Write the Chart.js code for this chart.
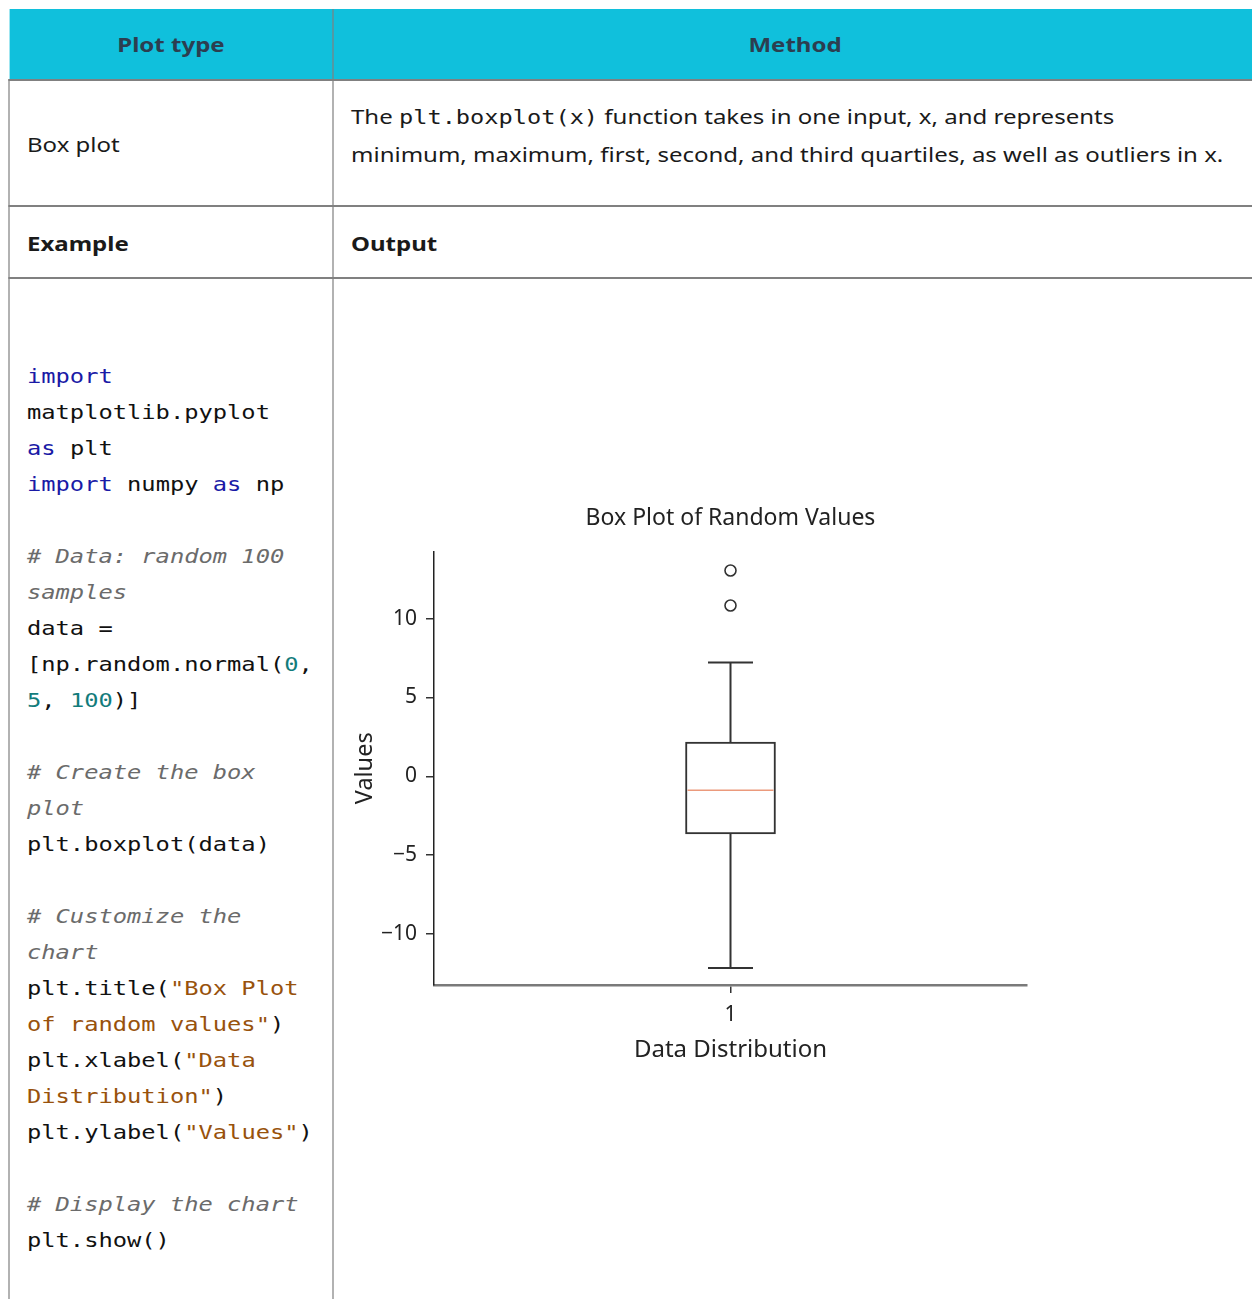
<!DOCTYPE html>
<html>
<head>
<meta charset="utf-8">
<script src="https://cdn.jsdelivr.net/npm/chart.js@4.4.1/dist/chart.umd.min.js"></script>
<style>
  html, body { margin: 0; padding: 0; width: 1252px; height: 1299px; overflow: hidden; background: #fff; }
  /* the table text in the reference is drawn a little wide, so the table is laid out narrower and stretched */
  #page { position: absolute; left: 0; top: 0; width: 1044px; height: 1299px; transform: scaleX(1.2); transform-origin: 0 0;
          font-family: 'Noto Sans', sans-serif; font-size: 20px; color: #1a1a1a; }
  .head { position: absolute; left: 7.5px; top: 9px; width: 1040px; height: 70px; background: #10c0dc; }
  .hline { position: absolute; left: 6.7px; width: 1040px; height: 2px; background: #808080; }
  .vline { position: absolute; width: 1.7px; background: #808080; }
  .txt { position: absolute; white-space: nowrap; }
  .th { font-weight: bold; color: #2c3e50; top: 31px; line-height: 28px; text-align: center; }
  .bold { font-weight: bold; }
  .mono { font-family: 'DejaVu Sans Mono', monospace; font-size: 19.7px; }
  #code { position: absolute; left: 22.5px; top: 359px; font-family: 'DejaVu Sans Mono', monospace;
          font-size: 19.8px; line-height: 36px; white-space: pre; color: #111; }
  .kw { color: #1a1aa6; }
  .cm { color: #6b6b6b; font-style: italic; }
  .nu { color: #137c7c; }
  .st { color: #98520c; }
  #chartBox { position: absolute; left: 340px; top: 490px; width: 720px; height: 600px; }
</style>
</head>
<body>
<div id="page">
  <div class="head"></div>
  <div class="hline" style="top:79px"></div>
  <div class="hline" style="top:205px"></div>
  <div class="hline" style="top:277px"></div>
  <div class="vline" style="left:6.7px; top:79px; height:1230px"></div>
  <div class="vline" style="left:276.7px; top:9px; height:1300px"></div>

  <div class="txt th" style="left:7.5px; width:270px">Plot type</div>
  <div class="txt th" style="left:277.5px; width:770px">Method</div>

  <div class="txt" style="left:22.5px; top:131px; line-height:28px">Box plot</div>
  <div class="txt" style="left:292.5px; top:98px; line-height:37px">The <span class="mono">plt.boxplot(x)</span> function takes in one input, x, and represents<br>minimum, maximum, first, second, and third quartiles, as well as outliers in x.</div>

  <div class="txt bold" style="left:22.5px; top:230px; line-height:28px">Example</div>
  <div class="txt bold" style="left:292.5px; top:230px; line-height:28px">Output</div>

  <div id="code"><span class="kw">import</span>
matplotlib.pyplot
<span class="kw">as</span> plt
<span class="kw">import</span> numpy <span class="kw">as</span> np

<span class="cm"># Data: random 100</span>
<span class="cm">samples</span>
data =
[np.random.normal(<span class="nu">0</span>,
<span class="nu">5</span>, <span class="nu">100</span>)]

<span class="cm"># Create the box</span>
<span class="cm">plot</span>
plt.boxplot(data)

<span class="cm"># Customize the</span>
<span class="cm">chart</span>
plt.title(<span class="st">"Box Plot</span>
<span class="st">of random values"</span>)
plt.xlabel(<span class="st">"Data</span>
<span class="st">Distribution"</span>)
plt.ylabel(<span class="st">"Values"</span>)

<span class="cm"># Display the chart</span>
plt.show()</div>
</div>

<div id="chartBox"><canvas id="boxChart" width="720" height="600"></canvas></div>

<script>
// Box plot values
const categories = ['1'];
const lowerQuartile = [-3.65];
const upperQuartile = [2.17];
const medianValues = [-0.88];
const whiskerLow = [-12.16];
const whiskerHigh = [7.21];
const outlierValues = [13.05, 10.83];
const yTickValues = [-10, -5, 0, 5, 10];
const yRange = [-13.24, 14.25];

const FONT = "'Noto Sans', sans-serif";
const INK = '#333333';

// Whiskers, caps and the median line, placed with the chart's own scales
const boxExtras = {
  id: 'boxExtras',
  beforeDatasetsDraw(chart) {
    const ctx = chart.ctx;
    const y = chart.scales.y;
    const bars = chart.getDatasetMeta(0).data;
    ctx.save();
    ctx.strokeStyle = INK;
    ctx.lineWidth = 2;
    bars.forEach((bar, i) => {
      const cap = bar.width / 4;
      const ends = [[lowerQuartile[i], whiskerLow[i]], [upperQuartile[i], whiskerHigh[i]]];
      ends.forEach(([from, to]) => {
        ctx.beginPath();
        ctx.moveTo(bar.x, y.getPixelForValue(from));
        ctx.lineTo(bar.x, y.getPixelForValue(to));
        ctx.moveTo(bar.x - cap, y.getPixelForValue(to));
        ctx.lineTo(bar.x + cap, y.getPixelForValue(to));
        ctx.stroke();
      });
    });
    ctx.restore();
  },
  afterDatasetsDraw(chart) {
    const ctx = chart.ctx;
    const y = chart.scales.y;
    const bars = chart.getDatasetMeta(0).data;
    ctx.save();
    ctx.strokeStyle = '#eb9a7c';
    ctx.lineWidth = 1.5;
    bars.forEach((bar, i) => {
      const half = bar.width / 2 - 2;
      const py = y.getPixelForValue(medianValues[i]);
      ctx.beginPath();
      ctx.moveTo(bar.x - half, py);
      ctx.lineTo(bar.x + half, py);
      ctx.stroke();
    });
    ctx.restore();
  }
};

new Chart(document.getElementById('boxChart'), {
  type: 'bar',
  data: {
    labels: categories,
    datasets: [
      {
        type: 'bar',
        data: categories.map((c, i) => [lowerQuartile[i], upperQuartile[i]]),
        backgroundColor: '#ffffff',
        borderColor: INK,
        borderWidth: 2,
        borderSkipped: false,
        barThickness: 90,
        order: 2
      },
      {
        type: 'line',
        showLine: false,
        data: outlierValues.map(v => ({ x: categories[0], y: v })),
        pointRadius: 5.5,
        pointBorderWidth: 1.6,
        pointBorderColor: INK,
        pointBackgroundColor: '#ffffff',
        order: 1
      }
    ]
  },
  options: {
    responsive: false,
    animation: false,
    layout: { padding: { left: 0, right: 33, top: 0, bottom: 0 } },
    plugins: {
      legend: { display: false },
      tooltip: { enabled: false },
      title: {
        display: true,
        fullSize: false, // centre over the plot area, like matplotlib
        text: 'Box Plot of Random Values',
        color: '#222',
        font: { family: FONT, size: 23, weight: 'normal' },
        padding: { top: 15, bottom: 19 }
      }
    },
    scales: {
      x: {
        type: 'category',
        offset: true,
        grid: { drawOnChartArea: false, drawTicks: true, offset: false, tickLength: 8, color: INK, lineWidth: 1.5 },
        border: { color: '#7a7a7a', width: 2.5 },
        ticks: { color: '#222', font: { family: FONT, size: 21 }, padding: 9 },
        title: {
          display: true,
          text: 'Data Distribution',
          color: '#222',
          font: { family: FONT, size: 24 },
          padding: { top: 4, bottom: 25 }
        },
        afterFit: scale => { scale.height = 105; }
      },
      y: {
        type: 'linear',
        min: yRange[0],
        max: yRange[1],
        afterBuildTicks: scale => { scale.ticks = yTickValues.map(v => ({ value: v })); },
        grid: { drawOnChartArea: false, drawTicks: true, tickLength: 8, color: INK, lineWidth: 1.5 },
        border: { color: '#222', width: 1.5 },
        ticks: {
          color: '#222',
          font: { family: FONT, size: 21 },
          padding: 9,
          callback: v => (v < 0 ? '\u2212' + Math.abs(v) : String(v))
        },
        title: {
          display: true,
          text: 'Values',
          color: '#222',
          font: { family: FONT, size: 23.5 },
          padding: { top: 11, bottom: 0 }
        },
        afterFit: scale => { scale.width = 94; }
      }
    }
  },
  plugins: [boxExtras]
});
</script>
</body>
</html>
